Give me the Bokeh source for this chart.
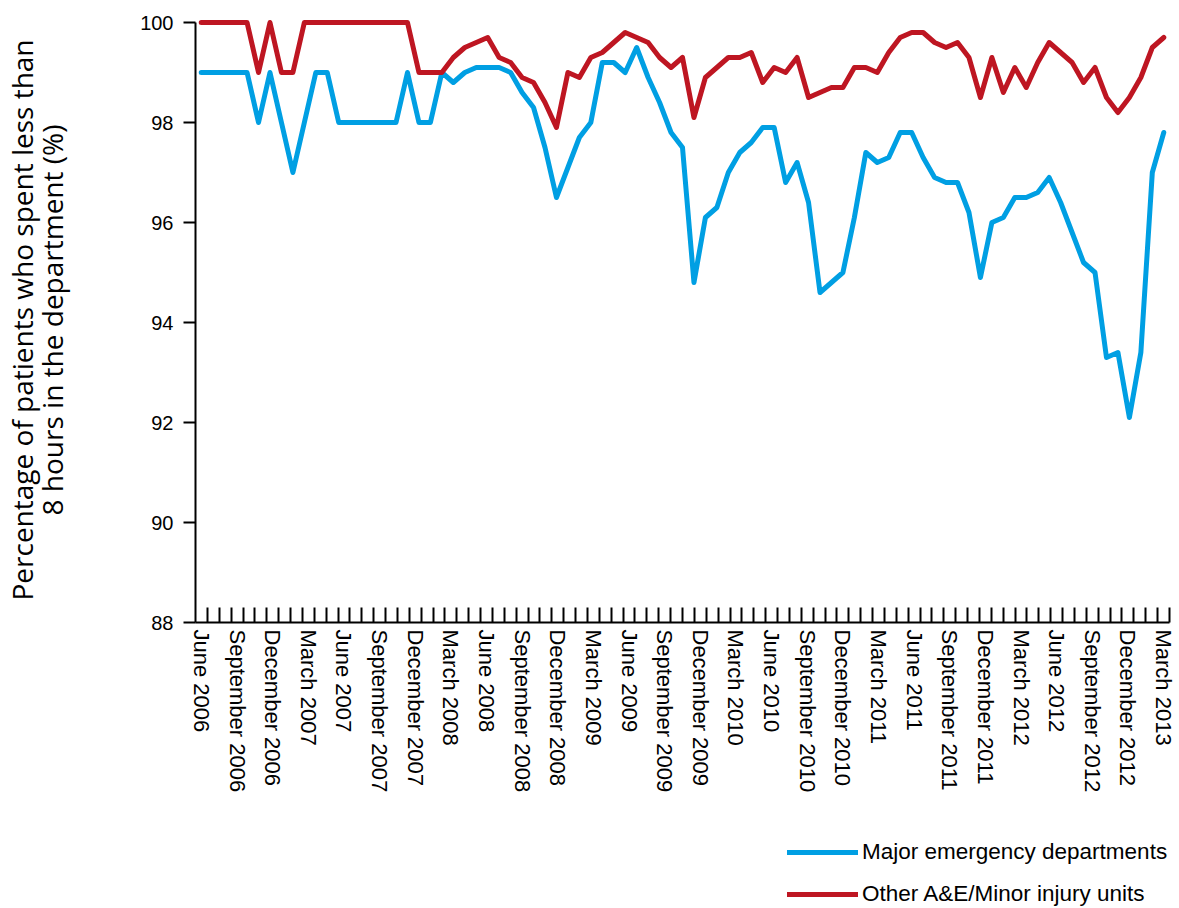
from bokeh.plotting import figure
from bokeh.layouts import column
from bokeh.models import Range1d, FixedTicker, CustomJSTickFormatter, Legend, LegendItem
from bokeh.embed import file_html
from bokeh.resources import INLINE

# Quarterly tick labels on the monthly axis (June 2006 - March 2013)
tick_labels = ["June 2006", "September 2006", "December 2006",
               "March 2007", "June 2007", "September 2007", "December 2007",
               "March 2008", "June 2008", "September 2008", "December 2008",
               "March 2009", "June 2009", "September 2009", "December 2009",
               "March 2010", "June 2010", "September 2010", "December 2010",
               "March 2011", "June 2011", "September 2011", "December 2011",
               "March 2012", "June 2012", "September 2012", "December 2012",
               "March 2013"]
axis_months = 82  # monthly categories on the axis

# Series values (%)
major_ed = [99, 99, 99, 99, 99, 98, 99, 98, 97, 98,
            99, 99, 98, 98, 98, 98, 98, 98, 99, 98,
            98, 99, 98.8, 99.0, 99.1, 99.1, 99.1, 99.0, 98.6, 98.3,
            97.5, 96.5, 97.1, 97.7, 98.0, 99.2, 99.2, 99.0, 99.5, 98.9,
            98.4, 97.8, 97.5, 94.8, 96.1, 96.3, 97.0, 97.4, 97.6, 97.9,
            97.9, 96.8, 97.2, 96.4, 94.6, 94.8, 95.0, 96.1, 97.4, 97.2,
            97.3, 97.8, 97.8, 97.3, 96.9, 96.8, 96.8, 96.2, 94.9, 96.0,
            96.1, 96.5, 96.5, 96.6, 96.9, 96.4, 95.8, 95.2, 95.0, 93.3,
            93.4, 92.1, 93.4, 97.0, 97.8]
other_ae = [100, 100, 100, 100, 100, 99, 100, 99, 99, 100,
            100, 100, 100, 100, 100, 100, 100, 100, 100, 99,
            99, 99, 99.3, 99.5, 99.6, 99.7, 99.3, 99.2, 98.9, 98.8,
            98.4, 97.9, 99.0, 98.9, 99.3, 99.4, 99.6, 99.8, 99.7, 99.6,
            99.3, 99.1, 99.3, 98.1, 98.9, 99.1, 99.3, 99.3, 99.4, 98.8,
            99.1, 99.0, 99.3, 98.5, 98.6, 98.7, 98.7, 99.1, 99.1, 99.0,
            99.4, 99.7, 99.8, 99.8, 99.6, 99.5, 99.6, 99.3, 98.5, 99.3,
            98.6, 99.1, 98.7, 99.2, 99.6, 99.4, 99.2, 98.8, 99.1, 98.5,
            98.2, 98.5, 98.9, 99.5, 99.7]
y_ticks = [88, 90, 92, 94, 96, 98, 100]

series_names = ["Major emergency departments", "Other A&E/Minor injury units"]
series_colors = ["#009FE3", "#BE1622"]
LINE_W = 5

n = len(major_ed)
xs = [(i + 0.5) * axis_months / n for i in range(n)]

p = figure(width=1179, height=840,
           x_range=Range1d(0, axis_months), y_range=Range1d(88, 100.1),
           output_backend="svg", toolbar_location=None,
           min_border_left=193, min_border_right=10,
           min_border_top=17, min_border_bottom=218)
p.xgrid.visible = False
p.ygrid.visible = False
p.outline_line_color = None

for vals, col in zip([major_ed, other_ae], series_colors):
    p.line(xs, vals, line_color=col, line_width=LINE_W,
           line_join="round", line_cap="round")

# x axis
xa = p.xaxis[0]
xa.ticker = FixedTicker(ticks=[3 * k + 0.5 for k in range(len(tick_labels))],
                        minor_ticks=list(range(1, axis_months + 1)))
xa.formatter = CustomJSTickFormatter(args=dict(labels=tick_labels),
                                     code="return labels[Math.round((tick - 0.5) / 3)] || '';")
xa.major_label_orientation = "vertical"
xa.major_tick_in = 0
xa.major_tick_out = 0
xa.minor_tick_in = 15
xa.minor_tick_out = 0
xa.minor_tick_line_width = 2
xa.minor_tick_line_color = "black"
xa.axis_line_width = 2
xa.axis_line_color = "black"
xa.major_label_standoff = 7
xa.major_label_text_font = "Liberation Sans"
xa.major_label_text_font_size = "22px"
xa.major_label_text_color = "black"

# y axis
ya = p.yaxis[0]
ya.ticker = FixedTicker(ticks=y_ticks)
ya.bounds = (88, 100)
ya.major_tick_in = 0
ya.major_tick_out = 12
ya.major_tick_line_width = 2
ya.major_tick_line_color = "black"
ya.minor_tick_line_color = None
ya.axis_line_width = 2
ya.axis_line_color = "black"
ya.major_label_standoff = 10
ya.major_label_text_font = "Liberation Sans"
ya.major_label_text_font_size = "20px"
ya.major_label_text_color = "black"
ya.axis_label = "Percentage of patients who spent less than\n8 hours in the department (%)"
ya.axis_label_text_font = "Open Sans"
ya.axis_label_text_font_size = "28px"
ya.axis_label_text_font_style = "normal"
ya.axis_label_text_line_height = 0.79
ya.axis_label_text_color = "black"
ya.axis_label_standoff = 66

# Legend panel beneath the chart (its frame lines up with the chart's frame)
lg = figure(width=1179, height=68, x_range=Range1d(0, 1), y_range=Range1d(0, 1),
            output_backend="svg", toolbar_location=None,
            x_axis_type=None, y_axis_type=None,
            min_border_left=0, min_border_right=0, min_border_top=0, min_border_bottom=0)
lg.xgrid.visible = False
lg.ygrid.visible = False
lg.outline_line_color = None
# legend keys: drawn outside the visible range, only their swatches show
keys = [lg.line([-3, -2], [-3, -3], line_color=col, line_width=LINE_W, line_cap="round")
        for col in series_colors]
legend = Legend(items=[LegendItem(label=nm, renderers=[r])
                       for nm, r in zip(series_names, keys)],
                location=(592, 1))
legend.glyph_width = 71
legend.glyph_height = 20
legend.label_height = 20
legend.spacing = 16
legend.padding = 0
legend.margin = 0
legend.label_standoff = 4
legend.label_text_font = "Liberation Sans"
legend.label_text_font_size = "22.5px"
legend.label_text_color = "black"
legend.border_line_color = None
legend.background_fill_alpha = 0
lg.add_layout(legend)

layout = column(p, lg, spacing=0)
open("out.html", "w").write(file_html(layout, INLINE))
